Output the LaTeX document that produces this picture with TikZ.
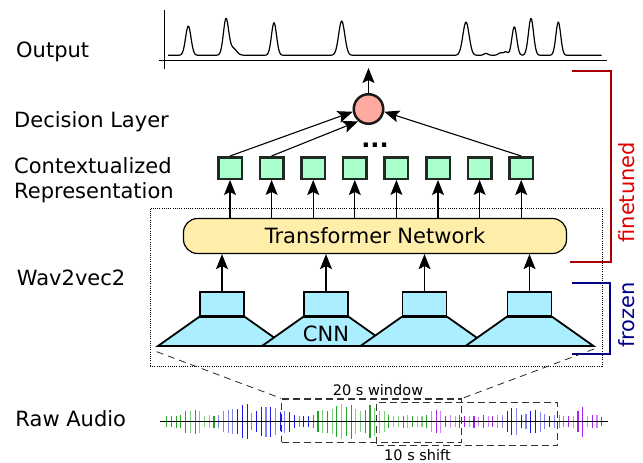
\documentclass[tikz,border=0pt]{standalone}
\usepackage{fontspec}
\setmainfont{DejaVu Sans}
\usetikzlibrary{arrows.meta,calc}
\definecolor{sqfill}{HTML}{AAFFCC}
\definecolor{sqdraw}{HTML}{1E2A22}
\definecolor{decfill}{HTML}{FFAAA0}
\definecolor{trfill}{HTML}{FFEEAA}
\definecolor{cnnfill}{HTML}{AAEEFF}
\definecolor{ftred}{HTML}{AA0000}
\definecolor{fttext}{HTML}{E00000}
\definecolor{frblue}{HTML}{000088}
\definecolor{spkg}{HTML}{22A522}
\definecolor{spkh}{HTML}{7FD27F}
\definecolor{spkb}{HTML}{1A1AEE}
\definecolor{spkc}{HTML}{8484EE}
\definecolor{spkm}{HTML}{AA22EE}
\definecolor{spkn}{HTML}{CF85FA}
\definecolor{winc}{HTML}{333333}
\begin{document}
\begin{tikzpicture}[x=1pt,y=-1pt,
  declare function={gp(\t,\c,\s)=exp(-min((min(abs(\t-\c),40)/\s)^2,9));},
  lbl/.style={inner sep=0, anchor=base west, font=\fontsize{21}{25}\selectfont},
  small/.style={inner sep=0, anchor=base, font=\fontsize{14.5}{17}\selectfont},
  tipstl/.tip={Stealth[length=15pt,width=12pt,inset=3pt]},
  arr/.style={line width=1.1pt, -tipstl},
  sqbox/.style={draw=sqdraw, fill=sqfill, line width=2.5pt, minimum width=23.5, minimum height=21.5, inner sep=0},
  decnode/.style={circle, draw=black!90, fill=decfill, line width=2.5pt, minimum size=29.5, inner sep=0},
  trbox/.style={draw, fill=trfill, rounded corners=14pt, line width=1.2pt, minimum width=383, minimum height=35, inner sep=0, font=\fontsize{21}{25}\selectfont},
  cnnbox/.style={draw, fill=cnnfill, line width=1.8pt, minimum width=44, minimum height=24.5, inner sep=0, outer sep=0},
  cnntrap/.style={draw, fill=cnnfill, line width=1.8pt, line join=miter},
  winbox/.style={draw=winc, line width=1.5pt, dash pattern=on 7pt off 4pt, inner sep=0},
  connd/.style={draw=black!85, line width=0.8pt, dash pattern=on 7pt off 5pt},
  vtext/.style={inner sep=0, anchor=base, rotate=90, font=\fontsize{21}{25}\selectfont}
]
\useasboundingbox (0,0) rectangle (643,463);

% left labels
\node[lbl] (lout) at (16,57.7) {Output};
\node[lbl] (ldec) at (14,127.7) {Decision Layer};
\node[lbl] (lctx) at (14,173.3) {Contextualized};
\node[lbl] (lrep) at (14,198.3) {Representation};
\node[lbl] (lw2v) at (16.7,285) {Wav2vec2};
\node[lbl] (lraw) at (15.3,426.7) {Raw Audio};

% output plot
\draw[line width=1pt] (164.3,10) -- (164.3,69);
\draw[line width=1pt] (159.3,60.3) -- (606.7,60.3);
\draw[line width=1.2pt, line join=round] plot[domain=168:601.7, samples=520]
  (\x, {55.3 - 29.3*gp(\x,188.3,3.8) - 36*gp(\x,226,3.7) - 7*gp(\x,233,5)
   - 32.6*gp(\x,274,3.6) - 34.3*gp(\x,341.7,4.3) - 33.3*gp(\x,466,4.4)
   - 1.8*gp(\x,486,3) - 2.5*gp(\x,501,3.5) - 3.2*gp(\x,506,2.5)
   - 28.6*gp(\x,514.3,3.4) - 37*gp(\x,531,3.6) - 33.3*gp(\x,558.3,3.4)});
\coordinate (outtip) at (368.5,68);

% brackets
\draw[ftred, line width=2.2pt] (571.7,70.7) -- (610.7,70.7) -- (610.7,262.3) -- (570,262.3);
\draw[frblue, line width=2pt] (572,282.7) -- (610,282.7) -- (610,354) -- (572,354);
\node[vtext, text=fttext] (ft) at (634.5,192.2) {finetuned};
\node[vtext, text=frblue] (fr) at (634,315) {frozen};

% wav2vec2 dotted box
\node[draw, line width=0.9pt, dash pattern=on 1pt off 1.2pt, minimum width=452, minimum height=158, inner sep=0] (w2v) at (376,287) {};

% transformer
\node[trbox] (tr) at (375,236) {Transformer Network};

% CNN units
\foreach \i/\cx in {1/222,2/326,3/424.5,4/529.5}{
  \path[cnntrap] (\cx-23,317) -- (\cx+23,317) -- (\cx+64,346) -- (\cx-64,346) -- cycle;
  \node[cnnbox] (cnn\i) at (\cx,304) {};
}
\node[inner sep=0, anchor=base, font=\fontsize{21}{25}\selectfont] (cnnlab) at (326,341) {CNN};
\foreach \i in {1,...,4}
  \draw[arr] (cnn\i.north) -- (cnn\i.north |- tr.south);

% contextualized squares
\foreach \i in {1,...,8}
  \node[sqbox] (sq\i) at ({230+(\i-1)*41.6},168) {};
\foreach \i in {1,...,8}
  \draw[arr] (tr.north -| sq\i) -- (sq\i.south);

% decision layer
\node[decnode] (dec) at (368.5,109) {};
\node[inner sep=0, anchor=base, font=\bfseries\fontsize{24}{26}\selectfont] (dots) at (375,147.5) {...};
\draw[arr] (sq1.north) -- (dec.190);
\draw[arr] (sq2.north) -- (dec.230);
\draw[arr] (sq8.north) -- (dec.350);
\draw[arr] (dec.north) -- (outtip);

% raw audio
\foreach \a/\c [count=\i] in {5.3/g,5.3/g,5.8/g,6.7/g,11.2/g,11.2/h,12/g,10.8/h,5.3/h,6.3/h,6/g,
6.3/c,10.7/c,11.7/c,12.5/c,12.7/b,16.7/b,17.3/b,8.3/c,10.7/b,14.5/b,15/c,15/b,13.3/c,9.7/b,10.8/c,10.2/b,6.7/b,5.5/c,5.3/b,5.7/b,
6.7/g,10.7/g,11.7/h,11.2/g,12.7/h,15.5/g,17.3/h,14.5/g,17/g,12.7/h,10.3/h,11.7/g,16.7/g,14/h,11.2/h,10.7/h,6.3/g,5.5/h,5.3/h,6/g,6.7/h,5.5/g,5.3/h,5.5/h,6.3/g,
10.7/n,11.7/m,11.2/n,5.3/m,6.3/n,5.5/n,
6.7/m,5.3/m,5.3/n,6/m,4.5/n,6.3/m,5.3/n,5.3/m,6.7/n,6.3/c,10.7/b,13.3/b,13.3/c,6.7/b,7.3/c,11.2/b,11.7/b,10/c,7.3/c,5.3/b,6.3/c,6.3/c,5.3/c,5.3/m,6/n,10.7/m,15/m,5.3/n,6.3/m,6.7/n,4.5/m}
  \draw[draw=spk\c, line width=1.1pt] ({166.7+(\i-1)*4.728},{421.7-\a}) -- ++(0,{2*\a});
\draw[line width=0.9pt] (160,421.7) -- (608,421.7);

\node[winbox, minimum width=180, minimum height=43.3] (win1) at (371.7,420.65) {};
\node[winbox, minimum width=181, minimum height=43.4] (win2) at (467.2,424) {};
\node[small] (wlab) at (378,395) {20 s window};
\node[small] (slab) at (417.5,460.5) {10 s shift};

\coordinate (dl) at (156.7,351.7);
\coordinate (dr) at (594,349);
\draw[connd] (dl) -- (win1.north west);
\draw[connd] (dr) -- (win1.north east);
\end{tikzpicture}
\end{document}
